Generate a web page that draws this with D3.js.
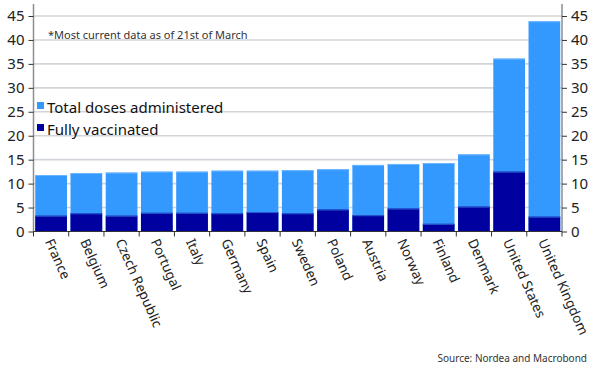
<!DOCTYPE html>
<html>
<head>
<meta charset="utf-8">
<script src="https://cdn.jsdelivr.net/npm/d3@7"></script>
<style>
  body { margin: 0; background: #fff; }
  svg { display: block; font-family: "Noto Sans", "Open Sans", sans-serif; }
</style>
</head>
<body>
<div id="chart"></div>
<script>
const width = 597;
const height = 377;

// ──── Data ────
const countries = ["France", "Belgium", "Czech Republic", "Portugal", "Italy", "Germany", "Spain",
    "Sweden", "Poland", "Austria", "Norway", "Finland", "Denmark", "United States", "United Kingdom"];
const totalDoses = [11.8, 12.2, 12.3, 12.5, 12.5, 12.7, 12.7, 12.8, 13.0, 13.9, 14.1, 14.3, 16.1, 36.1, 43.9];
const fullyVaccinated = [3.3, 3.8, 3.3, 3.9, 3.9, 3.8, 4.05, 3.8, 4.6, 3.4, 4.8, 1.6, 5.2, 12.5, 3.1];
const yTicks = [0, 5, 10, 15, 20, 25, 30, 35, 40, 45];

const lightBlue = "#3399ff";
const darkBlue = "#0000a0";

const margin = { top: 16, right: 35, bottom: 146, left: 33.5 };

const svg = d3.select("#chart")
    .append("svg")
    .attr("width", width)
    .attr("height", height);

const x = d3.scaleBand()
    .domain(countries)
    .range([margin.left, width - margin.right])
    .paddingInner(0.1)
    .paddingOuter(0.05);

const y = d3.scaleLinear()
    .domain([0, 45])
    .range([height - margin.bottom + 0.5, margin.top]);

// ──── Gridlines ────
svg.append("g")
    .selectAll("line")
    .data(yTicks.filter(d => d > 0))
    .join("line")
    .attr("x1", margin.left)
    .attr("x2", width - margin.right)
    .attr("y1", d => y(d))
    .attr("y2", d => y(d))
    .attr("stroke", "#d2d6da")
    .attr("stroke-width", 1.6);

// ──── Bars ────
const bars = svg.append("g");

bars.selectAll("rect.total")
    .data(countries)
    .join("rect")
    .attr("class", "total")
    .attr("x", d => x(d))
    .attr("width", x.bandwidth())
    .attr("y", (d, i) => y(totalDoses[i]))
    .attr("height", (d, i) => y(0) - y(totalDoses[i]))
    .attr("fill", lightBlue);

bars.selectAll("rect.full")
    .data(countries)
    .join("rect")
    .attr("class", "full")
    .attr("x", d => x(d))
    .attr("width", x.bandwidth())
    .attr("y", (d, i) => y(fullyVaccinated[i]))
    .attr("height", (d, i) => y(0) - y(fullyVaccinated[i]))
    .attr("fill", darkBlue);

// thin lighter edge along the top of each segment
bars.selectAll("line.edge")
    .data(countries.flatMap((d, i) => [{ c: d, v: totalDoses[i], col: "#6db6ff" }, { c: d, v: fullyVaccinated[i], col: "#2a5fd0" }]))
    .join("line")
    .attr("x1", d => x(d.c))
    .attr("x2", d => x(d.c) + x.bandwidth())
    .attr("y1", d => y(d.v) + 0.5)
    .attr("y2", d => y(d.v) + 0.5)
    .attr("stroke", d => d.col)
    .attr("stroke-width", 1);

// ──── Axes ────
const axisColor = "#8a8f94";

const leftAxis = svg.append("g")
    .attr("transform", `translate(${margin.left},0)`)
    .call(d3.axisLeft(y).tickValues(yTicks).tickSize(5).tickPadding(4));

const rightAxis = svg.append("g")
    .attr("transform", `translate(${width - margin.right},0)`)
    .call(d3.axisRight(y).tickValues(yTicks).tickSize(5).tickPadding(4));

[leftAxis, rightAxis].forEach(g => {
    g.select(".domain").attr("stroke", axisColor).attr("stroke-width", 1.5)
        .attr("d", `M0,${y(0)}V4`);
    g.selectAll(".tick line").attr("stroke", "#333");
    g.selectAll(".tick text")
        .attr("fill", "#222")
        .style("font-size", "15px")
        .style("font-family", "'Noto Sans', 'Open Sans', sans-serif");
});

// bottom axis: baseline and boundary ticks
const bottom = svg.append("g");
bottom.append("line")
    .attr("x1", margin.left)
    .attr("x2", width - margin.right)
    .attr("y1", y(0))
    .attr("y2", y(0))
    .attr("stroke", "#333")
    .attr("stroke-width", 1);

const boundaries = d3.range(countries.length + 1).map(i => margin.left + i * (width - margin.right - margin.left) / countries.length);
bottom.selectAll("line.tick")
    .data(boundaries)
    .join("line")
    .attr("class", "tick")
    .attr("x1", d => d)
    .attr("x2", d => d)
    .attr("y1", y(0))
    .attr("y2", y(0) + 5)
    .attr("stroke", "#333");

bottom.selectAll("text")
    .data(countries)
    .join("text")
    .attr("transform", d => `translate(${x(d) + x.bandwidth() / 2 - 2},${y(0) + 8}) rotate(66)`)
    .attr("dy", "0.35em")
    .attr("text-anchor", "start")
    .attr("fill", "#222")
    .style("font-size", "13.5px")
    .text(d => d);

// ──── Note ────
svg.append("text")
    .attr("x", 48)
    .attr("y", 39)
    .attr("fill", "#333")
    .style("font-size", "11px")
    .text("*Most current data as of 21st of March");

// ──── Legend ────
const legendItems = [
    { label: "Total doses administered", color: lightBlue },
    { label: "Fully vaccinated", color: darkBlue }
];
const legend = svg.append("g")
    .selectAll("g")
    .data(legendItems)
    .join("g")
    .attr("transform", (d, i) => `translate(37,${108 + i * 22})`);

legend.append("rect")
    .attr("x", 0)
    .attr("y", -6)
    .attr("width", 7)
    .attr("height", 7)
    .attr("fill", d => d.color);

legend.append("text")
    .attr("x", 10)
    .attr("y", 0)
    .attr("dy", "0.35em")
    .attr("fill", "#111")
    .style("font-size", "15px")
    .text(d => d.label);

// ──── Source ────
svg.append("text")
    .attr("x", 587)
    .attr("y", 362)
    .attr("text-anchor", "end")
    .attr("fill", "#333")
    .style("font-size", "10px")
    .text("Source: Nordea and Macrobond");
</script>
</body>
</html>
